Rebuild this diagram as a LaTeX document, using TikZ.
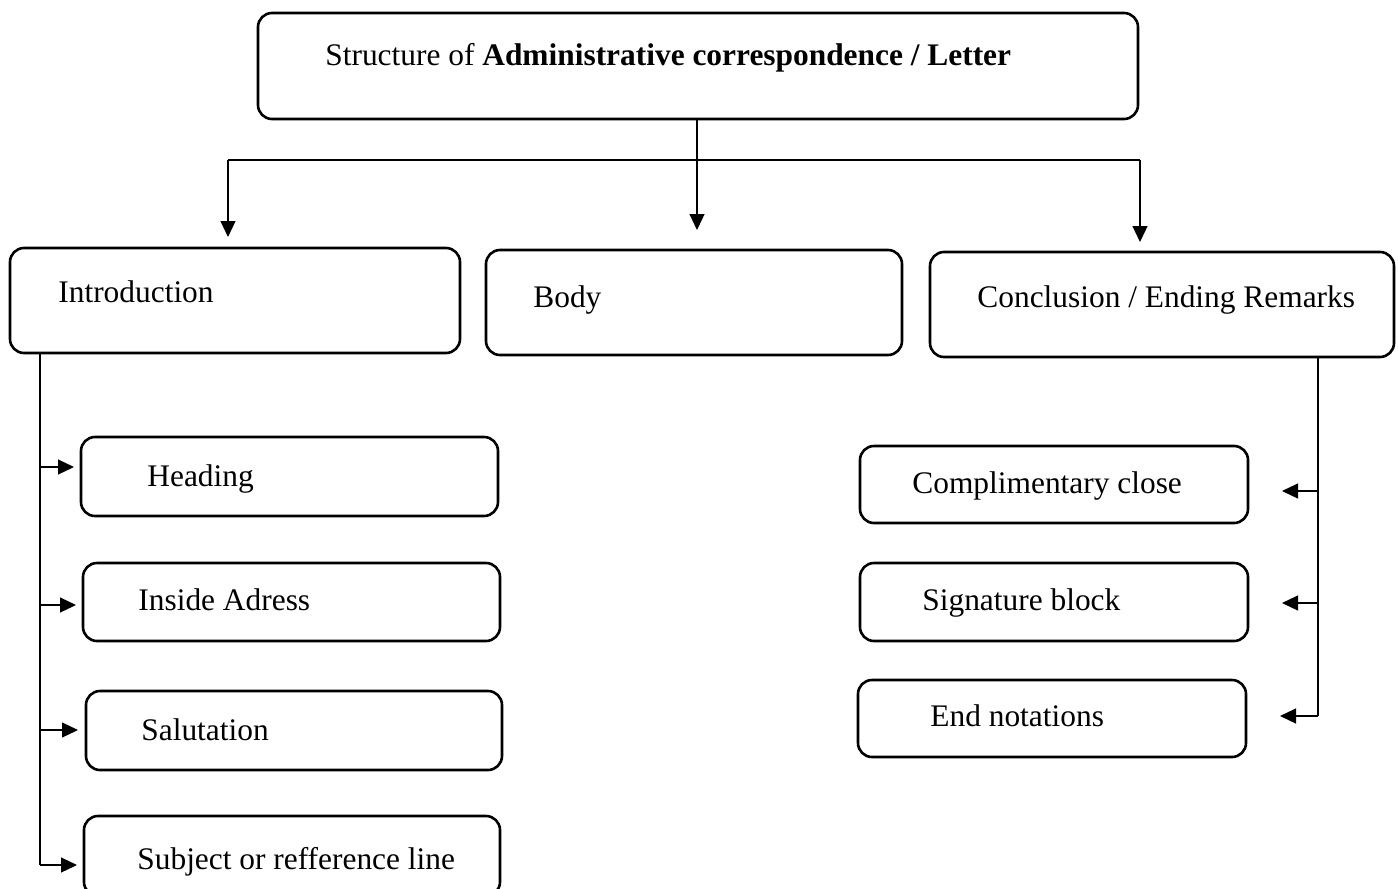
\documentclass[tikz,border=0pt]{standalone}
\usepackage{fontspec}
\setmainfont{Liberation Serif}
\usetikzlibrary{arrows.meta}
\begin{document}
\begin{tikzpicture}[x=0.5pt,y=-0.5pt,
  box/.style={draw,line width=1.3pt,rounded corners=7pt,inner sep=0pt},
  txt/.style={anchor=base west,inner sep=0pt,font=\fontsize{15.7}{18}\selectfont},
  link/.style={line width=0.6pt},
  arr/.style={line width=0.6pt,-{Triangle[length=8pt,width=7.5pt]}}]
\useasboundingbox (0,0) rectangle (1398,889);
% boxes, given by their centres and sizes in picture units
\node[box,minimum width=440pt,minimum height=53pt] (top) at (698,66) {};
\node[box,minimum width=225pt,minimum height=52.5pt] (intro) at (235,300.5) {};
\node[box,minimum width=208pt,minimum height=52.5pt] (body) at (694,302.5) {};
\node[box,minimum width=232pt,minimum height=52.5pt] (concl) at (1162,304.5) {};
\node[box,minimum width=208.5pt,minimum height=39.5pt] (head) at (289.5,476.5) {};
\node[box,minimum width=208.5pt,minimum height=39pt] (addr) at (291.5,602) {};
\node[box,minimum width=208pt,minimum height=39.5pt] (salut) at (294,730.5) {};
\node[box,minimum width=208pt,minimum height=40pt] (subj) at (292,856) {};
\node[box,minimum width=194pt,minimum height=38.5pt] (compl) at (1054,484.5) {};
\node[box,minimum width=194pt,minimum height=39pt] (sign) at (1054,602) {};
\node[box,minimum width=194pt,minimum height=38.5pt] (endn) at (1052,718.5) {};
% texts
\node[txt] (t-top) at (325,65) {Structure of \textbf{Administrative correspondence / Letter}};
\node[txt] (t-intro) at (58,302) {Introduction};
\node[txt] (t-body) at (533,307) {Body};
\node[txt] (t-concl) at (977,307) {Conclusion / Ending Remarks};
\node[txt] (t-head) at (147,486) {Heading};
\node[txt] (t-addr) at (138,610) {Inside Adress};
\node[txt] (t-salut) at (141,740) {Salutation};
\node[txt] (t-subj) at (137,869) {Subject or refference line};
\node[txt] (t-compl) at (912,493) {Complimentary close};
\node[txt] (t-sign) at (922,610) {Signature block};
\node[txt] (t-endn) at (930,726) {End notations};
% top level branching
\coordinate (split) at (697,160);
\coordinate (ltip) at (228,237);
\coordinate (mtip) at (697,230);
\coordinate (rtip) at (1140,242);
\draw[arr] (top.south -| split) -- (mtip);
\draw[link] (ltip |- split) -- (rtip |- split);
\draw[arr] (ltip |- split) -- (ltip);
\draw[arr] (rtip |- split) -- (rtip);
% introduction parts
\coordinate (lbus) at (40,0);
\draw[link] (intro.south -| lbus) -- (40,865);
\draw[arr] (40,467) -- (74,467);
\draw[arr] (40,605) -- (76,605);
\draw[arr] (40,730) -- (78,730);
\draw[arr] (40,865) -- (77,865);
% conclusion parts
\coordinate (rbus) at (1318,0);
\draw[link] (concl.south -| rbus) -- (1318,716);
\draw[arr] (1318,491) -- (1282,491);
\draw[arr] (1318,603) -- (1282,603);
\draw[arr] (1318,716) -- (1280,716);
\end{tikzpicture}
\end{document}
